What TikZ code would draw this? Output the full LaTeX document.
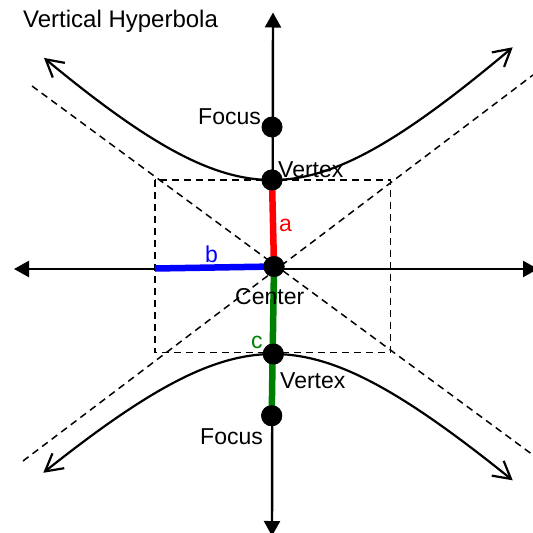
\documentclass[tikz,border=0pt]{standalone}
\usepackage{fontspec}
\setmainfont{Liberation Sans}
\usetikzlibrary{arrows.meta}
\begin{document}
\begin{tikzpicture}[x=1pt,y=-1pt,
  dot/.style={circle,fill=black,inner sep=0pt,minimum size=21pt},
  lbl/.style={anchor=base west,inner sep=0pt,font=\fontsize{23}{27}\selectfont},
  axisline/.style={line width=2.4pt,{Triangle[length=15pt,width=16pt]}-{Triangle[length=15pt,width=16pt]}},
  asym/.style={line width=1.5pt,dash pattern=on 7pt off 5pt},
  branch/.style={line width=2.2pt,{Straight Barb[length=17pt,width=19pt]}-{Straight Barb[length=17pt,width=19pt]}},
  seg/.style={line width=6.5pt}]
\useasboundingbox (0,0) rectangle (533,533);
% coordinates
\coordinate (Atop) at (273,12.5);
\coordinate (Abot) at (272,536);
\coordinate (Aleft) at (14,269);
\coordinate (Aright) at (538,269);
\coordinate (BoxTL) at (155,180);
\coordinate (BoxBR) at (390.5,352.6);
\coordinate (D1a) at (32,86);
\coordinate (D1b) at (533,455);
\coordinate (D2a) at (23,461);
\coordinate (D2b) at (533,75);
\coordinate (Bl) at (155,268.5);
% asymptotes and box
\draw[asym] (D1a) -- (D1b);
\draw[asym] (D2a) -- (D2b);
\draw[asym] (BoxTL) rectangle (BoxBR);
% axes
\draw[axisline] (Atop) -- (Abot);
\draw[axisline] (Aleft) -- (Aright);
% branches
\draw[branch] plot[domain=-228:240.7,samples=120] ({272+\x},{180-149*(sqrt(1+(\x/150)^2)-1)});
\draw[branch] plot[domain=-230:239.4,samples=120] ({273.3+\x},{354+143*(sqrt(1+(\x/150)^2)-1)});
% dots
\node[dot] (F1) at (272,127) {};
\node[dot] (V1) at (272,180) {};
\node[dot] (C) at (274,266.5) {};
\node[dot] (V2) at (273.3,354) {};
\node[dot] (F2) at (271.7,415.7) {};
% colored segments
\draw[seg,red] (V1.center) -- (C.center);
\draw[seg,blue] (Bl) -- (C.center);
\draw[seg,green!50!black] (C.center) -- (F2.center);
\node[dot] at (V1) {};
\node[dot] at (C) {};
\node[dot] at (V2) {};
\node[dot] at (F2) {};
% labels
\node[lbl,font=\fontsize{24}{28}\selectfont] (title) at (23,27) {Vertical Hyperbola};
\node[lbl] (lF1) at (198,124) {Focus};
\node[lbl] (lV1) at (278,177) {Vertex};
\node[lbl,red] (la) at (279,231) {a};
\node[lbl,blue] (lb) at (205,262) {b};
\node[lbl] (lC) at (235,304) {Center};
\node[lbl,green!50!black] (lc) at (251,348) {c};
\node[lbl] (lV2) at (280,388.5) {Vertex};
\node[lbl] (lF2) at (200,444) {Focus};
\end{tikzpicture}
\end{document}
